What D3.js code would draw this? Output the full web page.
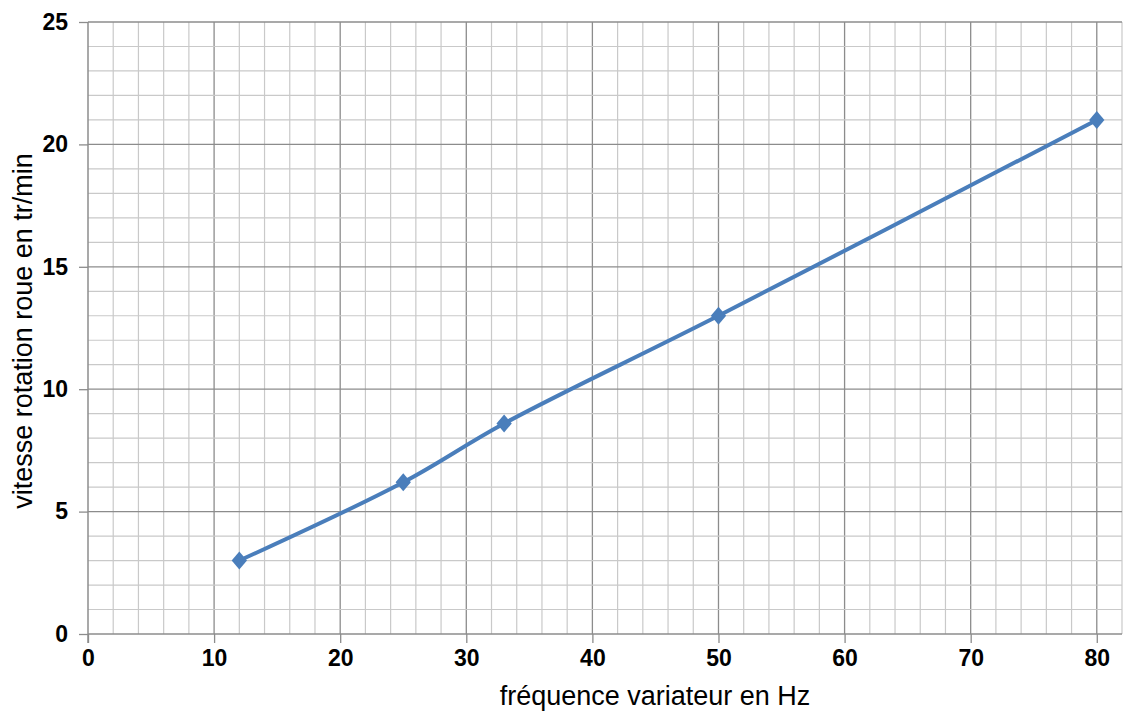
<!DOCTYPE html>
<html lang="fr">
<head>
<meta charset="UTF-8">
<title>vitesse rotation roue</title>
<script src="https://d3js.org/d3.v7.min.js"></script>
<style>
    body { margin: 0; background: #fff; }
    svg { font-family: "Liberation Sans", Arial, sans-serif; }
    .tick text { font-weight: bold; font-size: 23px; fill: #000; }
    .title { font-size: 27px; fill: #000; }
</style>
</head>
<body>
<svg width="1123" height="713"></svg>
<script>
    // données
    let frequences = [12, 25, 33, 50, 80];
    let vitesses = [3, 6.2, 8.6, 13, 21];
    let xTicks = [0, 10, 20, 30, 40, 50, 60, 70, 80];
    let yTicks = [0, 5, 10, 15, 20, 25];

    let svg = d3.select("svg");
    let gauche = 88, droite = 1122, haut = 22, bas = 634;

    let x = d3.scaleLinear().domain([0, 82]).range([gauche, droite]);
    let y = d3.scaleLinear().domain([0, 25]).range([bas, haut]);

    let grid = svg.append("g");
    // grille fine
    grid.selectAll("line.vmin")
        .data(d3.range(2, 83, 2))
        .join("line")
        .attr("x1", d => x(d)).attr("x2", d => x(d))
        .attr("y1", haut).attr("y2", bas)
        .attr("stroke", d => d % 10 === 0 ? "#8c8c8c" : "#c9c9c9")
        .attr("stroke-width", d => d % 10 === 0 ? 1.3 : 1.2);
    grid.selectAll("line.hmin")
        .data(d3.range(1, 26, 1))
        .join("line")
        .attr("x1", gauche).attr("x2", droite)
        .attr("y1", d => y(d)).attr("y2", d => y(d))
        .attr("stroke", d => d % 5 === 0 ? "#8c8c8c" : "#c9c9c9")
        .attr("stroke-width", d => d % 5 === 0 ? 1.3 : 1.2);

    // axes
    let xAxis = svg.append("g")
        .attr("transform", `translate(0,${bas})`)
        .call(d3.axisBottom(x).tickValues(xTicks).tickSize(9).tickPadding(7).tickFormat(d3.format("d")));
    let yAxis = svg.append("g")
        .attr("transform", `translate(${gauche},0)`)
        .call(d3.axisLeft(y).tickValues(yTicks).tickSize(9).tickPadding(11).tickFormat(d3.format("d")));
    [xAxis, yAxis].forEach(a => {
        a.select(".domain").attr("stroke", "#8c8c8c").attr("stroke-width", 1.5);
        a.selectAll(".tick line").attr("stroke", "#8c8c8c").attr("stroke-width", 1.3);
    });
    xAxis.select(".domain").attr("d", `M${gauche},0H${droite}`);
    yAxis.select(".domain").attr("d", `M0,${bas + 9}V${haut}`);

    // courbe
    let pts = frequences.map((f, i) => [f, vitesses[i]]);
    let line = d3.line()
        .x(d => x(d[0])).y(d => y(d[1]))
        .curve(d3.curveCatmullRom.alpha(0.5));
    svg.append("path")
        .datum(pts)
        .attr("d", line)
        .attr("fill", "none")
        .attr("stroke", "#4a7ebb")
        .attr("stroke-width", 4);

    svg.selectAll("path.pt")
        .data(pts)
        .join("path")
        .attr("class", "pt")
        .attr("d", d3.symbol(d3.symbolDiamond, 130))
        .attr("transform", d => `translate(${x(d[0])},${y(d[1])}) scale(1.25,0.85)`)
        .attr("fill", "#4a7ebb");

    // titres des axes
    svg.append("text")
        .attr("class", "title")
        .attr("x", 655).attr("y", 705)
        .attr("text-anchor", "middle")
        .text("fréquence variateur en Hz");
    svg.append("text")
        .attr("class", "title")
        .attr("transform", "translate(32,331) rotate(-90)")
        .attr("text-anchor", "middle")
        .text("vitesse rotation roue en tr/min");
</script>
</body>
</html>
